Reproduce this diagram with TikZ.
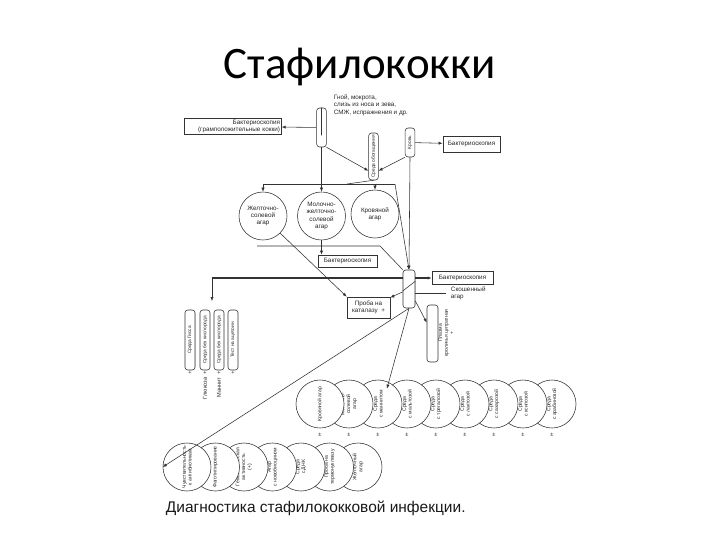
\documentclass[tikz,border=0pt]{standalone}
\usepackage{fontspec}
\setmainfont{Liberation Sans}
\newfontfamily\titlefont{Carlito}
\usetikzlibrary{arrows.meta,positioning,calc}

\begin{document}
\begin{tikzpicture}[
    x=0.025cm, y=-0.025cm,
    every node/.style={font=\fontsize{4.5}{5.2}\selectfont, text=black!85},
    box/.style={draw=black!80, inner sep=1pt, align=center, line width=0.4pt},
    tube/.style={draw=black!80, rotate=90, rounded corners=2pt, fill=white,
                 inner sep=0.5pt, minimum height=0.24cm, line width=0.4pt,
                 font=\fontsize{3.4}{4}\selectfont,
                 path picture={\draw[black!80] ([xshift=-2pt]path picture bounding box.north east)
                                 -- ([xshift=-2pt]path picture bounding box.south east);}},
    dish/.style={draw=black!80, circle, fill=white, inner sep=0pt,
                 minimum size=1.2cm, align=center, line width=0.4pt},
    plate/.style={dish, rotate=90, minimum size=1.2cm, font=\fontsize{3.6}{4.2}\selectfont},
    sign/.style={font=\fontsize{4}{4.5}\selectfont, inner sep=0.5pt},
    arr/.style={-{Latex[length=1mm,width=0.8mm]}, line width=0.4pt, black!80},
    ln/.style={line width=0.4pt, black!80},
    thk/.style={line width=1.1pt, black!80}
]
\useasboundingbox (0,0) rectangle (720,540);

% ── Title ─────────────────────────────────────────────────────────────────
\node[font=\titlefont\fontsize{32}{36}\selectfont, text=black] (title) at (360,67) {Стафилококки};

% ── Material and first tubes ──────────────────────────────────────────────
\node[align=left, anchor=north west] (spec) at (329,90)
      {Гной, мокрота,\\слизь из носа и зева,\\СМЖ, испражнения и др.};
\node[tube, minimum width=0.975cm] (t1) at (321.5,127.5) {};
\draw[ln] (t1.east) -- ($(t1.east)!0.7!(t1.west)$);
\node[box, text width=2.35cm, align=right, minimum height=0.375cm] (bak1) at (233,126.5)
      {Бактериоскопия\\(грамположительные кокки)};
\draw[arr] (t1) -- (bak1);

\node[tube, minimum width=1.175cm] (t2) at (373.5,156.5) {Среда обогащения};
\node[tube, minimum width=0.725cm] (t3) at (410,142.5) {Кровь};
\node[box, minimum width=1.43cm, minimum height=0.4cm] (bak2) at (471.5,144) {Бактериоскопия};
\draw[arr] (t3) -- (bak2);
\draw[arr] (t1.south west) -- ($(t2.north west)!0.2!(t2.north east)$);
\draw[arr] (t3.north west) -- ($(t2.south west)!0.2!(t2.south east)$);

% ── Plates ────────────────────────────────────────────────────────────────
\node[dish] (c1) at (263,216) {Желточно-\\солевой\\агар};
\node[dish] (c2) at (321.5,216) {Молочно-\\желточно-\\солевой\\агар};
\node[dish] (c3) at (375,214) {Кровяной\\агар};

\coordinate (barL) at (263,184);
\coordinate (barR) at (395,184);
\coordinate (barJ) at (347,184);
\draw[ln] (t2.west) -- (barJ);
\draw[ln] (barL) -- (barR);
\draw[arr] (barL) -- (c1.north);
\draw[arr] (t1.west) -- (c2.north);
\draw[arr] (c3.north |- barL) -- (c3.north);

% ── Pure culture ──────────────────────────────────────────────────────────
\node[tube, minimum width=0.95cm, minimum height=0.3cm] (t4) at (409,289) {};
\draw[ln] ($(t4.north west)!0.45!(t4.north east)$) -- ($(t4.south west)!0.7!(t4.south east)$);
\draw[arr] (barR) -- (t4.east);
\draw[arr] (t3.west) -- (t4.east);

\coordinate (botL) at (257,246);
\coordinate (botR) at (380,246);
\draw[ln] (botL) -- (botR) -- (t4.north east);
\node[box, minimum width=1.475cm, minimum height=0.3cm] (bak3) at (347.5,261) {Бактериоскопия};
\draw[arr] (c2.south) -- (c2.south |- bak3.north);

\node[box, minimum width=1.075cm, minimum height=0.525cm] (kat) at (368.5,307.5)
      {Проба на\\каталазу \ +};
\draw[arr] (c1.-45) -- (kat.north west);
\draw[arr] (t4) -- (kat);

\node[box, minimum width=1.525cm, minimum height=0.325cm] (bak4) at (462.5,278) {Бактериоскопия};
\draw[arr, thk] (bak4.west -| t4.south) -- (bak4.west);
\node[align=left, anchor=west] (skos) at (446,293) {Скошенный\\агар};
\draw[ln] (skos.west -| t4.south) -- (skos.west);

\node[tube, minimum width=1.425cm, minimum height=0.275cm] (t5) at (432.5,333.5) {};
\node[rotate=90, align=center, font=\fontsize{3.6}{4.2}\selectfont] (plz) at (446,333)
      {Плазма\\кроличья цитратная\\+};
\draw[arr] (t4) -- (t5);

% ── Tubes for fermentation ────────────────────────────────────────────────
\coordinate (lt) at (212,301);
\draw[thk] (bak4.west -| t4.north) -- (bak4.west -| lt);
\draw[arr] (bak4.west -| lt) -- (lt);

\foreach \i/\xx/\lab in {1/190/{Среда Гисса}, 2/205/{Среда без кислорода},
                         3/219/{Среда без кислорода}, 4/233/{Тест на ацетоин}}
  \node[tube, minimum width=1.5cm, minimum height=0.25cm] (lt\i) at (\xx,340) {\lab};
\node[sign, anchor=north] (sg1) at (lt1.west) {+};
\node[sign, anchor=north] (sg4) at (lt4.west) {+};
\node[sign, rotate=90, anchor=east] (sg2) at (lt2.west) {Глюкоза \ +};
\node[sign, rotate=90, anchor=east] (sg3) at (lt3.west) {Маннит \ +};

% ── Identification, row 1 ─────────────────────────────────────────────────
\foreach \i/\lab in {9/{Среда\\с арабинозой}, 8/{Среда\\с ксилозой}, 7/{Среда\\с сахарозой},
                     6/{Среда\\с лактозой}, 5/{Среда\\с трегалозой}, 4/{Среда\\с мальтозой},
                     3/{Среда\\с маннитом}, 2/{Молочно-\\солевой\\агар}, 1/{Кровяной агар}} {
  \pgfmathsetmacro{\xx}{320+29*(\i-1)}
  \node[plate] (r\i) at (\xx,404) {\lab};
  \node[sign] (rs\i) at (\xx,435) {±};
}
\draw[arr, shorten >=0.4cm] (t4.west) -- (r4.north);

% ── Identification, row 2 ─────────────────────────────────────────────────
\foreach \i/\lab in {7/{Желточный\\агар}, 6/{Проба на\\термонуклеазу},
                     5/{Среда\\с ДНК}, 4/{Агар\\с новобиоцином}, 3/{Гемолитическая\\активность\\(+)},
                     2/{Фаготипирование}, 1/{Чувствительность\\к антибиотикам}} {
  \pgfmathsetmacro{\xx}{187+28.5*(\i-1)}
  \node[plate] (s\i) at (\xx,467) {\lab};
}
\draw[arr] (t4.west) -- (s1.north);

% ── Caption ───────────────────────────────────────────────────────────────
\node[font=\fontsize{11}{13}\selectfont, text=black!90, anchor=west] (cap) at (161,508)
      {Диагностика стафилококковой инфекции.};

\end{tikzpicture}
\end{document}
